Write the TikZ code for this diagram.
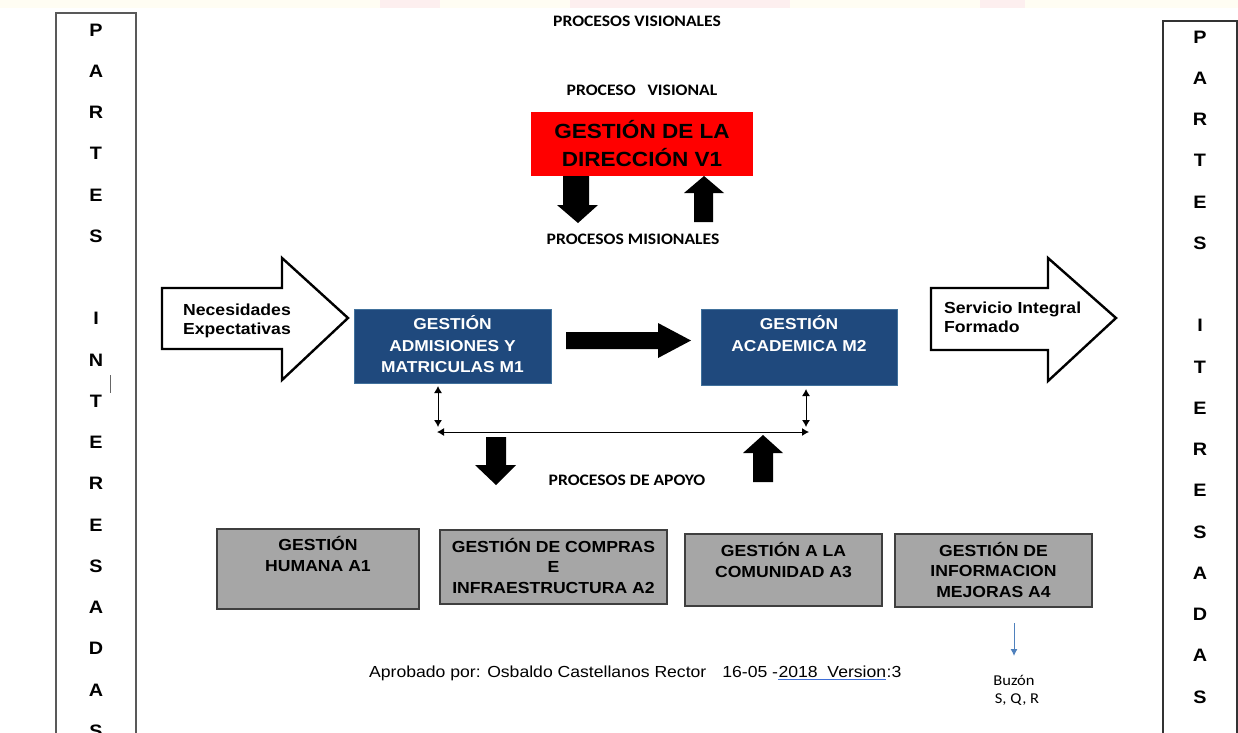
\documentclass[tikz,border=0pt]{standalone}
\usepackage{fontspec}
\usetikzlibrary{arrows.meta}
\newfontfamily\arial[FakeStretch=1.1]{Liberation Sans}
\newfontfamily\calib[FakeStretch=1.1]{Carlito}
\definecolor{mblue}{HTML}{1F497D}
\definecolor{mbluee}{HTML}{41719C}
\definecolor{agray}{HTML}{A6A6A6}
\definecolor{agrayd}{HTML}{3F3F3F}
\definecolor{lblue}{HTML}{4F81BD}
\definecolor{ulblue}{HTML}{3F6FD8}
\definecolor{bandc}{HTML}{FFFDF3}
\definecolor{bandp}{HTML}{FDEFEF}
\begin{document}
\begin{tikzpicture}[x=1pt,y=-1pt,
  sidebox/.style={line width=1.4pt},
  sideletter/.style={font=\arial\bfseries\fontsize{18}{20}\selectfont, inner sep=0pt},
  cal/.style={font=\calib\bfseries\fontsize{16}{18}\selectfont, inner sep=0pt},
  redbox/.style={fill=red, inner sep=0pt, minimum width=222pt, minimum height=64pt,
    align=center, font=\arial\bfseries\fontsize{20.5}{28}\selectfont},
  bluebox/.style={fill=mblue, draw=mbluee, line width=0.6pt, inner sep=0pt},
  bluetext/.style={text=white, align=center, inner sep=0pt, font=\arial\bfseries\fontsize{15.8}{21.5}\selectfont},
  graybox/.style={fill=agray, draw=agrayd, line width=1.1pt, inner sep=0pt},
  graytext/.style={align=center, inner sep=0pt, font=\arial\bfseries\fontsize{16}{20.5}\selectfont},
  arrtext/.style={align=left, inner sep=0pt, font=\arial\bfseries\fontsize{16}{19.5}\selectfont},
  outarrow/.style={draw=black, fill=white, line width=2.4pt, line join=miter},
  thin/.style={line width=1pt, {Latex[length=7pt,width=8pt]}-{Latex[length=7pt,width=8pt]}},
  foot/.style={font=\arial\fontsize{16}{18}\selectfont, inner sep=0pt}
]
\useasboundingbox (0,0) rectangle (1238,732);
\fill[white] (0,0) rectangle (1238,732);
% faint watermark band at top
\fill[bandc] (0,0) rectangle (1238,8);
\fill[bandp] (380,0) rectangle (440,8);
\fill[bandp] (570,0) rectangle (790,8);
\fill[bandp] (980,0) rectangle (1025,8);

% side boxes
\draw[sidebox, draw=black!65] (56,13) rectangle (136,760);
\draw[sidebox, draw=black!80] (1163,21) rectangle (1237,760);
\foreach \l/\k in {P/0,A/1,R/2,T/3,E/4,S/5,I/7,N/8,T/9,E/10,R/11,E/12,S/13,A/14,D/15,A/16,S/17}
  \node[sideletter] (L\k) at (96,{30+41.25*\k}) {\l};
\foreach \l/\k in {P/0,A/1,R/2,T/3,E/4,S/5,I/7,T/8,E/9,R/10,E/11,S/12,A/13,D/14,A/15,S/16}
  \node[sideletter] (R\k) at (1200,{37+41.25*\k}) {\l};
\draw[black!60, line width=0.8pt] (110,375) -- (110,393);

% headings
\node[cal] (pv) at (637,21) {PROCESOS VISIONALES};
\node[cal] (pvl) at (642,90) {PROCESO\ \ \ VISIONAL};
\node[cal] (pm) at (633,239) {PROCESOS MISIONALES};
\node[cal] (pa) at (627,480) {PROCESOS DE APOYO};

% vision
\node[redbox] (v1) at (642,144) {GESTIÓN DE LA\\DIRECCIÓN V1};
\fill (563,176) -- (589,176) -- (589,205) -- (598,205) -- (578,223) -- (557,205) -- (563,205) -- cycle;
\fill (694,222) -- (713,222) -- (713,193) -- (724,193) -- (704,176) -- (684,193) -- (694,193) -- cycle;

% mission
\draw[outarrow] (162,288) -- (282,288) -- (282,258) -- (348,318) -- (282,380) -- (282,349) -- (162,349) -- cycle;
\node[arrtext, anchor=west] (nec) at (183,321) {Necesidades\\Expectativas};
\draw[outarrow] (931,288) -- (1048,288) -- (1048,258) -- (1116,318) -- (1048,381) -- (1048,350) -- (931,350) -- cycle;
\node[arrtext, anchor=west] (ser) at (944,317.5) {Servicio Integral\\Formado};

\node[bluebox, minimum width=197pt, minimum height=74pt] (m1) at (452.5,346) {};
\node[bluetext] (m1t) at (452.5,344.5) {GESTIÓN\\ADMISIONES Y\\MATRICULAS M1};
\node[bluebox, minimum width=196pt, minimum height=76pt] (m2) at (799,347) {};
\node[bluetext] (m2t) at (799,333.5) {GESTIÓN\\ACADEMICA M2};
\fill (566,332) -- (658,332) -- (658,323) -- (691,340.5) -- (658,358) -- (658,349) -- (566,349) -- cycle;

% thin connectors
\coordinate (a1t) at (438,386);
\coordinate (a1b) at (438,427);
\coordinate (a2t) at (806,389);
\coordinate (a2b) at (806,427);
\coordinate (hl) at (437,432);
\coordinate (hr) at (809,432);
\draw[thin] (a1t) -- (a1b);
\draw[thin] (a2t) -- (a2b);
\draw[thin] (hl) -- (hr);

% support arrows
\fill (486,437) -- (506,437) -- (506,465) -- (516,465) -- (496,485) -- (475,465) -- (486,465) -- cycle;
\fill (753,482) -- (773,482) -- (773,453) -- (783,453) -- (763,435) -- (743,453) -- (753,453) -- cycle;

% support boxes
\node[graybox, minimum width=202pt, minimum height=80pt] (g1) at (318,569) {};
\node[graytext] (g1t) at (318,554) {GESTIÓN\\HUMANA A1};
\node[graybox, minimum width=227pt, minimum height=74pt] (g2) at (553.5,567) {};
\node[graytext] (g2t) at (553.5,565.5) {GESTIÓN DE COMPRAS\\E\\INFRAESTRUCTURA A2};
\node[graybox, minimum width=197pt, minimum height=72pt] (g3) at (783.5,570) {};
\node[graytext] (g3t) at (783.5,560) {GESTIÓN A LA\\COMUNIDAD A3};
\node[graybox, minimum width=197pt, minimum height=73pt] (g4) at (993.5,570.5) {};
\node[graytext] (g4t) at (993.5,569.5) {GESTIÓN DE\\INFORMACION\\MEJORAS A4};

% buzon
\node[font=\calib\fontsize{15}{20}\selectfont, inner sep=0pt] (bz) at (1014,680) {Buzón};
\node[font=\calib\fontsize{15}{20}\selectfont, inner sep=0pt] (sqr) at (1017,700) {S, Q, R};
\coordinate (bt) at (1014,623);
\coordinate (bb) at (1014,656);
\draw[lblue, line width=1pt, -{Latex[length=7pt,width=7pt]}] (bt) -- (bb);

% footer
\node[foot, anchor=base west] (f1) at (369,677) {Aprobado por: Osbaldo Castellanos Rector\hspace{1em}16-05 -};
\node[foot, anchor=base west] (f2) at (f1.base east) {2018\ \ Version};
\node[foot, anchor=base west] (f3) at (f2.base east) {:3};
\draw[ulblue, line width=1.2pt] ([yshift=-2.5pt]f2.south west) -- ([yshift=-2.5pt]f2.south east);
\end{tikzpicture}
\end{document}
